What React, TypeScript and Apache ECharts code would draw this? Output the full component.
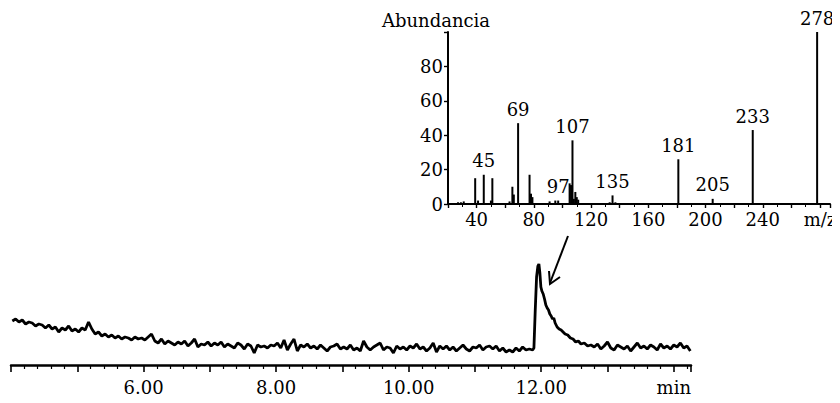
import React, { useEffect, useRef } from "react";
import * as echarts from "echarts";

// ---- Total ion chromatogram (retention time in min, detector response) ----
const TIC_T0 = 4.02;
const TIC_STEP = 0.05;
const TIC_BEFORE = [
  44, 46, 43, 45, 41, 43, 42, 39, 41, 40,
  37, 40, 36, 38, 33, 37, 35, 39, 34, 36,
  33, 37, 35, 43, 36, 31, 33, 29, 31, 28,
  30, 27, 29, 26, 28, 27, 25, 28, 26, 27,
  25, 28, 31, 24, 22, 26, 21, 24, 22, 20,
  23, 21, 24, 19, 22, 26, 18, 21, 20, 23,
  19, 22, 20, 23, 18, 21, 19, 17, 22, 20,
  16, 21, 19, 12, 20, 18, 19, 17, 20, 19,
  22, 17, 25, 15, 21, 26, 14, 20, 18, 21,
  17, 19, 16, 20, 17, 14, 18, 19, 21, 16,
  18, 16, 20, 15, 17, 14, 24, 18, 15, 18,
  20, 22, 15, 18, 17, 12, 19, 16, 18, 15,
  19, 17, 21, 16, 18, 14, 17, 22, 13, 19,
  16, 19, 15, 18, 14, 17, 20, 16, 14, 18,
  17, 20, 15, 18, 19, 16, 19, 14, 17, 13,
  15, 13, 17, 14, 18, 15, 16, 15,
];
const TIC_PEAK: [number, number][] = [
  [11.89, 17], [11.91, 55], [11.93, 88], [11.95, 99], [11.965, 101],
  [11.98, 92], [11.995, 78], [12.01, 74], [12.03, 71], [12.05, 66],
  [12.07, 60], [12.09, 57], [12.11, 55], [12.13, 51], [12.15, 49],
  [12.17, 46], [12.19, 47], [12.21, 42], [12.24, 38], [12.27, 36],
  [12.3, 35], [12.33, 33], [12.36, 31], [12.4, 30], [12.44, 27],
  [12.48, 26], [12.52, 23], [12.56, 24], [12.6, 21], [12.65, 22],
  [12.7, 19], [12.75, 20],
];
const TIC_AFTER_T0 = 12.8;
const TIC_AFTER = [
  18, 21, 16, 19, 23, 17, 15, 20, 18, 16,
  19, 14, 18, 22, 17, 19, 16, 20, 18, 15,
  21, 17, 19, 16, 20, 18, 22, 17, 19, 14,
];
const TIME_LABELS = [6, 8, 10, 12];

// ---- Mass spectrum of the peak (m/z, relative abundance %) ----
const MZ = [27, 29, 31, 39, 41, 45, 50, 51, 63, 65, 66, 69, 77, 78, 79, 91, 95, 97,
  105, 106, 107, 108, 109, 110, 111, 133, 135, 137, 181, 205, 233, 278];
const ABUNDANCE = [1, 1, 1.5, 15, 2, 17, 2, 15, 1.5, 10, 5.5, 47, 17, 6, 4, 1.5, 2, 2,
  12, 11, 37, 3, 7, 4, 2.5, 1, 5, 1, 26, 3, 43, 100];
const LABELED_MZ = [45, 69, 97, 107, 135, 181, 205, 233, 278];
const MZ_LABELS = [40, 80, 120, 160, 200, 240];

const FONT = "DejaVu Serif";
const FONT_SIZE = 18;
const INK = "#000";

export default function App() {
  const ref = useRef<HTMLDivElement>(null);

  useEffect(() => {
    if (!ref.current) return;
    const chart = echarts.init(ref.current, undefined, { renderer: "svg" });

    const ticData: [number, number][] = [];
    TIC_BEFORE.forEach((v, i) => ticData.push([TIC_T0 + i * TIC_STEP, v]));
    TIC_PEAK.forEach((p) => ticData.push(p));
    TIC_AFTER.forEach((v, i) => ticData.push([TIC_AFTER_T0 + i * TIC_STEP, v]));

    const specData = MZ.map((m, i) => ({
      value: [m, ABUNDANCE[i]],
      label: { show: LABELED_MZ.includes(m) },
    }));

    const labelText = { color: INK, fontFamily: FONT, fontSize: FONT_SIZE };

    chart.setOption({
      animation: false,
      backgroundColor: "#fff",
      textStyle: { fontFamily: FONT },
      grid: [
        { left: 11, right: 149, top: 255, height: 110 },
        { left: 448, right: 10, top: 32, height: 172 },
      ],
      xAxis: [
        {
          gridIndex: 0,
          type: "value",
          min: 4,
          max: 14.26,
          interval: 1,
          splitLine: { show: false },
          axisLine: { lineStyle: { color: INK, width: 2.5 } },
          axisTick: { show: true, length: 7, lineStyle: { color: INK, width: 1.6 } },
          minorTick: { show: true, splitNumber: 5, length: 4, lineStyle: { color: INK, width: 1.2 } },
          axisLabel: {
            ...labelText,
            margin: 13,
            formatter: (v: number) => {
              if (Math.abs(v - 14) < 1e-6) return "min";
              return TIME_LABELS.some((t) => Math.abs(t - v) < 1e-6) ? v.toFixed(2) : "";
            },
          },
        },
        {
          gridIndex: 1,
          type: "value",
          min: 20,
          max: 287,
          interval: 20,
          splitLine: { show: false },
          axisLine: { lineStyle: { color: INK, width: 2 } },
          axisTick: { show: true, length: 4, lineStyle: { color: INK, width: 1.4 } },
          minorTick: { show: true, splitNumber: 2, length: 3, lineStyle: { color: INK, width: 1 } },
          axisLabel: {
            ...labelText,
            margin: 6,
            formatter: (v: number) => {
              if (v === 280) return "m/z";
              return MZ_LABELS.includes(v) ? String(v) : "";
            },
          },
        },
      ],
      yAxis: [
        { gridIndex: 0, type: "value", min: 0, max: 110, show: false },
        {
          gridIndex: 1,
          type: "value",
          min: 0,
          max: 100,
          interval: 20,
          splitLine: { show: false },
          axisLine: { show: true, lineStyle: { color: INK, width: 2 } },
          axisTick: { show: true, length: 4, lineStyle: { color: INK, width: 1.4 } },
          axisLabel: {
            ...labelText,
            margin: 5,
            formatter: (v: number) => (v === 100 ? "" : String(v)),
          },
        },
      ],
      series: [
        {
          type: "line",
          xAxisIndex: 0,
          yAxisIndex: 0,
          data: ticData,
          showSymbol: false,
          lineStyle: { color: INK, width: 2.8 },
        },
        {
          type: "bar",
          xAxisIndex: 1,
          yAxisIndex: 1,
          data: specData,
          barWidth: 2,
          itemStyle: { color: INK },
          label: {
            position: "top",
            distance: 5,
            ...labelText,
            formatter: (p: any) => String(p.value[0]),
          },
        },
      ],
      graphic: [
        {
          type: "text",
          x: 436,
          y: 20,
          style: {
            text: "Abundancia",
            fill: INK,
            fontFamily: FONT,
            fontSize: FONT_SIZE,
            align: "center",
            verticalAlign: "middle",
          },
        },
        {
          type: "line",
          shape: { x1: 568, y1: 236, x2: 550, y2: 283 },
          style: { stroke: INK, lineWidth: 2 },
        },
        {
          type: "polyline",
          shape: { points: [[549, 271], [550, 284], [560, 277]] },
          style: { stroke: INK, lineWidth: 2, fill: null },
        },
      ],
    });

    return () => chart.dispose();
  }, []);

  return <div ref={ref} style={{ width: 840, height: 403, margin: -8 }} />;
}
